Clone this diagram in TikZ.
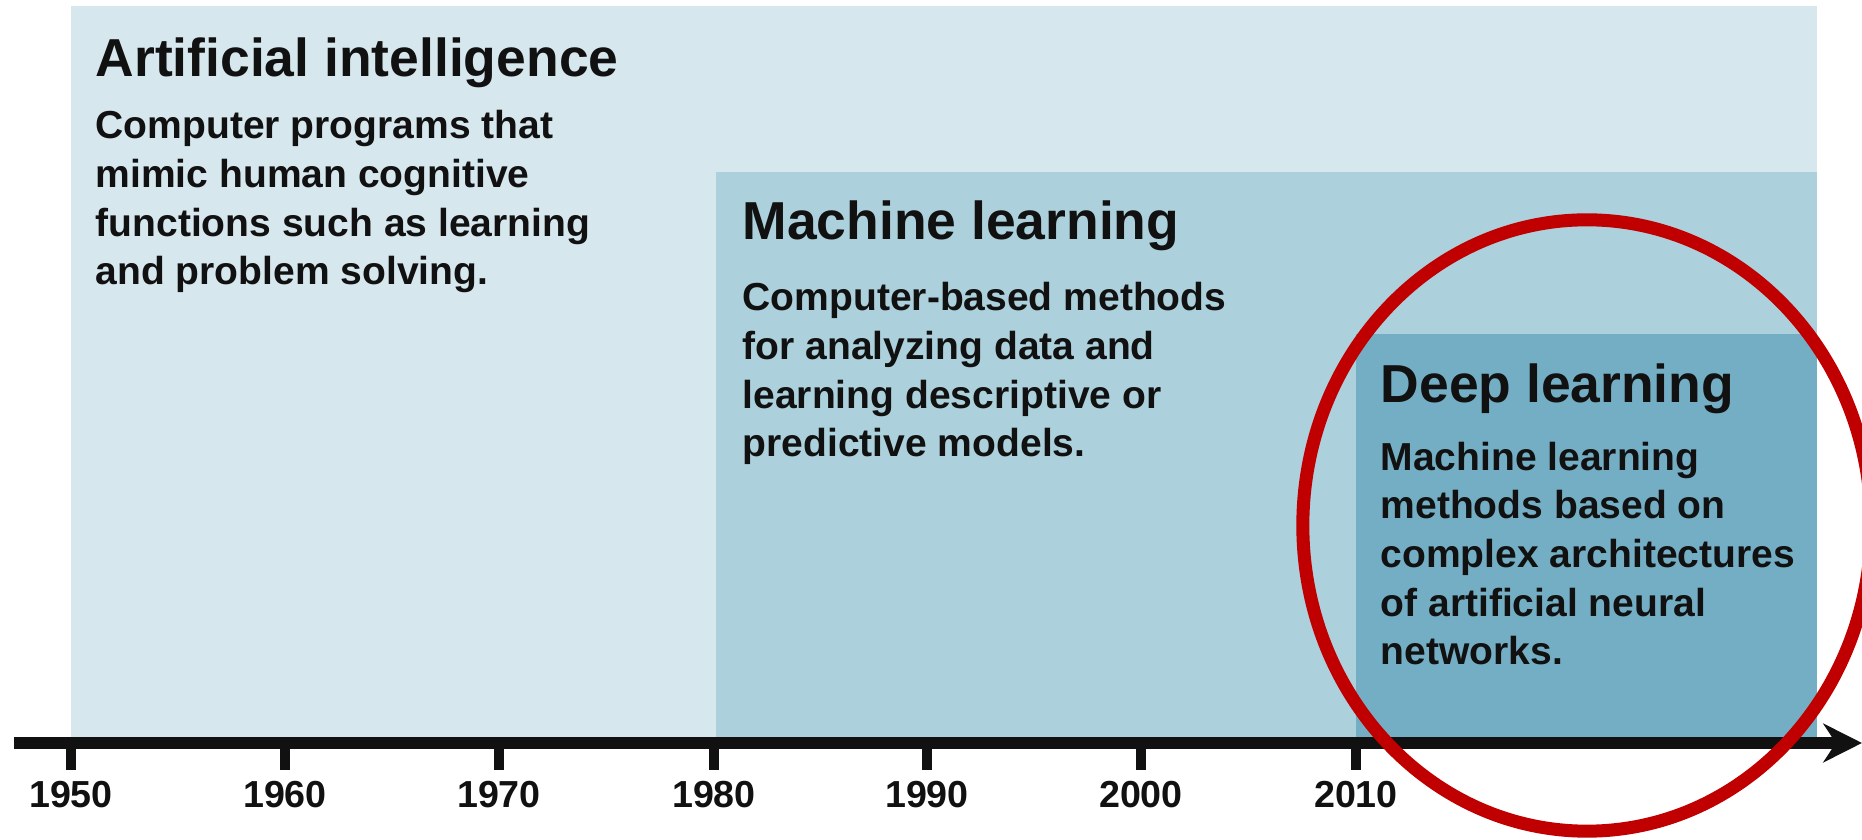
\documentclass[tikz,border=0pt]{standalone}
\usepackage{fontspec}
\setmainfont{Liberation Sans}
\usetikzlibrary{arrows.meta,shapes.geometric}
\definecolor{aicol}{HTML}{D6E7EE}
\definecolor{mlcol}{HTML}{ACD0DC}
\definecolor{dlcol}{HTML}{74AEC4}
\definecolor{ringred}{HTML}{C00000}
\definecolor{ink}{HTML}{111111}
\tikzset{
  head/.style={anchor=base west, inner sep=0pt, text=ink, font=\fontsize{15.2}{18}\selectfont\bfseries},
  body/.style={anchor=base west, inner sep=0pt, text=ink, align=left, font=\fontsize{11.1}{13.85}\selectfont\bfseries},
  year/.style={anchor=base, inner sep=0pt, text=ink, font=\fontsize{10.7}{12}\selectfont\bfseries},
  tick/.style={line width=2.6pt, draw=ink},
  axisline/.style={line width=3.6pt, draw=ink, -{Stealth[length=11pt,width=11pt]}},
  ringstyle/.style={draw=ringred, line width=0.13cm, ellipse, inner sep=0pt, minimum width=5.68cm, minimum height=6.11cm},
}
\begin{document}
\begin{tikzpicture}[x=0.01cm, y=-0.01cm]
\useasboundingbox (0,0) rectangle (1862,840);
% boxes
\fill[aicol] (71,6) rectangle (1817,743);
\fill[mlcol] (716,172) rectangle (1817,743);
\fill[dlcol] (1356,334) rectangle (1817,743);
% texts (body nodes are placed by the baseline of their last line)
\node[head] (aih) at (95,77) {Artificial intelligence};
\node[body] (aib) at (95,285) {Computer programs that\\mimic human cognitive\\functions such as learning\\and problem solving.};
\node[head] (mlh) at (742,240) {Machine learning};
\node[body] (mlb) at (742,457) {Computer-based methods\\for analyzing data and\\learning descriptive or\\predictive models.};
\node[head] (dlh) at (1380,403) {Deep learning};
\node[body] (dlb) at (1380,665) {Machine learning\\methods based on\\complex architectures\\of artificial neural\\networks.};
% axis
\coordinate (axs) at (14,743);
\coordinate (axe) at (1862,743);
\draw[axisline] (axs) -- (axe);
\foreach \x/\yr [count=\i] in {71/1950,285/1960,499/1970,714/1980,927/1990,1141/2000,1356/2010}{
  \coordinate (t\i) at (\x,743);
  \coordinate (tb\i) at (\x,770);
  \draw[tick] (t\i) -- (tb\i);
  \node[year] (y\i) at (\x,808) {\yr};
}
% red ring
\node[ringstyle] (ring) at (1587,525.5) {};
\end{tikzpicture}
\end{document}
